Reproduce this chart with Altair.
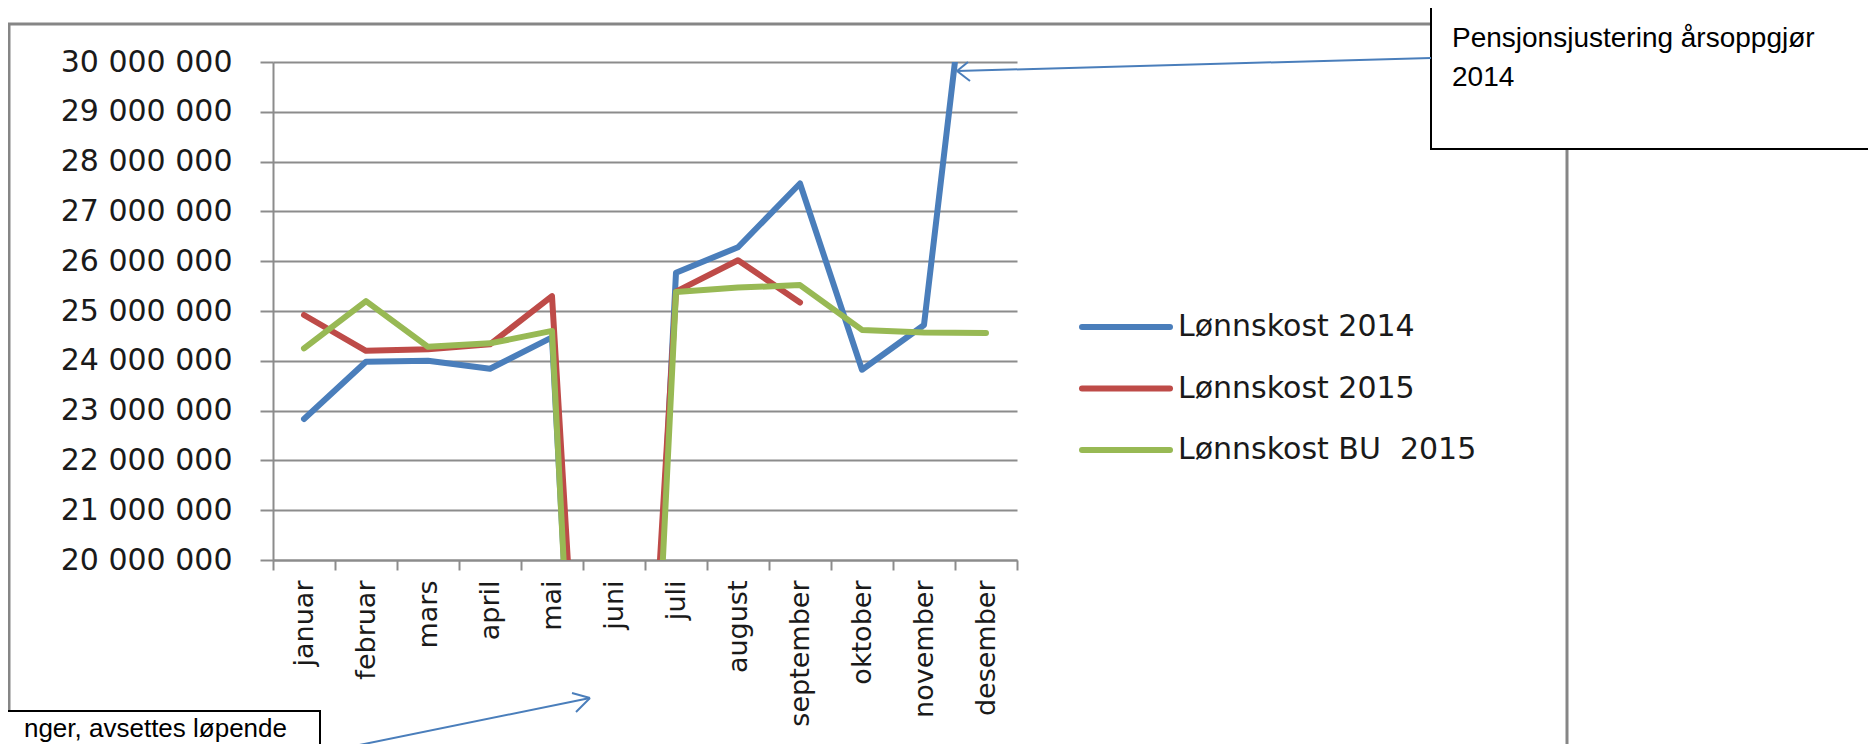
import altair as alt
import pandas as pd

# ---- data ----
months = ["januar", "februar", "mars", "april", "mai", "juni", "juli",
          "august", "september", "oktober", "november", "desember"]
series_names = ["Lønnskost 2014", "Lønnskost 2015", "Lønnskost BU\u00a0 2015"]
lonn_2014 = [22830000, 23980000, 24000000, 23840000, 24470000, 1000000,
             25770000, 26280000, 27560000, 23820000, 24720000, 35300000]
lonn_2015 = [24920000, 24200000, 24230000, 24330000, 25300000, 4500000,
             25390000, 26020000, 25170000, None, None, None]
bu_2015 = [24250000, 25200000, 24280000, 24350000, 24600000, 0,
           25380000, 25470000, 25520000, 24620000, 24570000, 24560000]
y_ticks = [20000000 + i * 1000000 for i in range(11)]
colors = ["#4A7EBB", "#BE4B48", "#98B954"]

rows = []
for name, vals in zip(series_names, [lonn_2014, lonn_2015, bu_2015]):
    for m, v in zip(months, vals):
        if v is not None:
            rows.append({"month": m, "series": name, "value": v})
df = pd.DataFrame(rows)
legend_df = pd.DataFrame({"series": series_names, "idx": list(range(len(series_names)))})

color_scale = alt.Scale(domain=series_names, range=colors)
one = pd.DataFrame({"a": [0]})

lines = alt.Chart(df).mark_line(clip=True, strokeWidth=6, strokeCap="round", strokeJoin="round").encode(
    x=alt.X("month:N", sort=months, bandPosition=0.5,
            scale=alt.Scale(paddingInner=0, paddingOuter=0),
            axis=alt.Axis(title=None, labelAngle=-90, labelFont="DejaVu Sans", labelFontSize=27,
                          tickSize=10, labelPadding=10, tickBand="extent", grid=False)),
    y=alt.Y("value:Q", scale=alt.Scale(domain=[20000000, 30000000], nice=False, zero=False),
            axis=alt.Axis(title=None, values=y_ticks,
                          labelExpr="format(datum.value/1000000,'d') + ' 000 000'",
                          labelFont="DejaVu Sans", labelFontSize=30, tickSize=13,
                          labelPadding=28, grid=True)),
    color=alt.Color("series:N", scale=color_scale, legend=None),
    order=alt.Order("series_order:Q"),
).transform_calculate(
    series_order="indexof(%s, datum.series)" % str(series_names).replace("'", '"')
)

# custom legend (pixel positions)
leg_lines = alt.Chart(legend_df).transform_calculate(py="265 + 61.5*datum.idx").mark_rule(
    strokeWidth=6, strokeCap="round").encode(
    x=alt.value(809), x2=alt.value(897),
    y=alt.Y("py:Q", scale=None, axis=None),
    color=alt.Color("series:N", scale=color_scale, legend=None))
leg_text = alt.Chart(legend_df).transform_calculate(py="265 + 61.5*datum.idx").mark_text(
    align="left", baseline="middle", font="DejaVu Sans", fontSize=30, color="#1a1a1a").encode(
    x=alt.value(905), y=alt.Y("py:Q", scale=None, axis=None), text="series:N")

border = alt.Chart(one).mark_rect(filled=False, stroke="#868686", strokeWidth=3).encode(
    x=alt.value(-264), x2=alt.value(1294), y=alt.value(-38), y2=alt.value(686))

box1 = alt.Chart(one).mark_rect(fill="white", stroke="black", strokeWidth=2).encode(
    x=alt.value(1158), x2=alt.value(1620), y=alt.value(-56), y2=alt.value(87))
box1_t1 = alt.Chart(one).mark_text(text="Pensjonsjustering årsoppgjør", align="left",
                                   baseline="alphabetic", font="Liberation Sans",
                                   fontSize=28, color="black").encode(
    x=alt.value(1179), y=alt.value(-15))
box1_t2 = alt.Chart(one).mark_text(text="2014", align="left", baseline="alphabetic",
                                   font="Liberation Sans", fontSize=28, color="black").encode(
    x=alt.value(1179), y=alt.value(24))

box2 = alt.Chart(one).mark_rect(fill="white", stroke="black", strokeWidth=2).encode(
    x=alt.value(-290), x2=alt.value(47), y=alt.value(649), y2=alt.value(720))
box2_t = alt.Chart(one).mark_text(text="nger, avsettes løpende", align="right",
                                  baseline="alphabetic", font="Liberation Sans",
                                  fontSize=26, color="black").encode(
    x=alt.value(14), y=alt.value(675))

arrow_color = "#4A7EBB"
def seg(x1, y1, x2, y2):
    return alt.Chart(one).mark_rule(color=arrow_color, strokeWidth=2).encode(
        x=alt.value(x1), y=alt.value(y1), x2=alt.value(x2), y2=alt.value(y2))

arrows = [seg(1158, -4, 684, 9), seg(684, 9, 695, 0), seg(684, 9, 697, 19),
          seg(52, 690, 317, 636), seg(317, 636, 299, 631), seg(317, 636, 303, 650)]

chart = alt.layer(border, lines, leg_lines, leg_text, box1, box1_t1, box1_t2,
                  box2, box2_t, *arrows).resolve_scale(y="independent").properties(
    width=744, height=498,
    autosize=alt.AutoSizeParams(type="none"),
    padding={"left": 265, "top": 54, "right": 851, "bottom": 184},
    background="white",
).configure_view(stroke=None).configure_axis(
    gridColor="#8c8c8c", gridWidth=2, domainColor="#8c8c8c", domainWidth=2,
    tickColor="#8c8c8c", tickWidth=2, labelColor="#1a1a1a")

chart.save("out.html", embed_options={"renderer": "svg", "actions": False})
